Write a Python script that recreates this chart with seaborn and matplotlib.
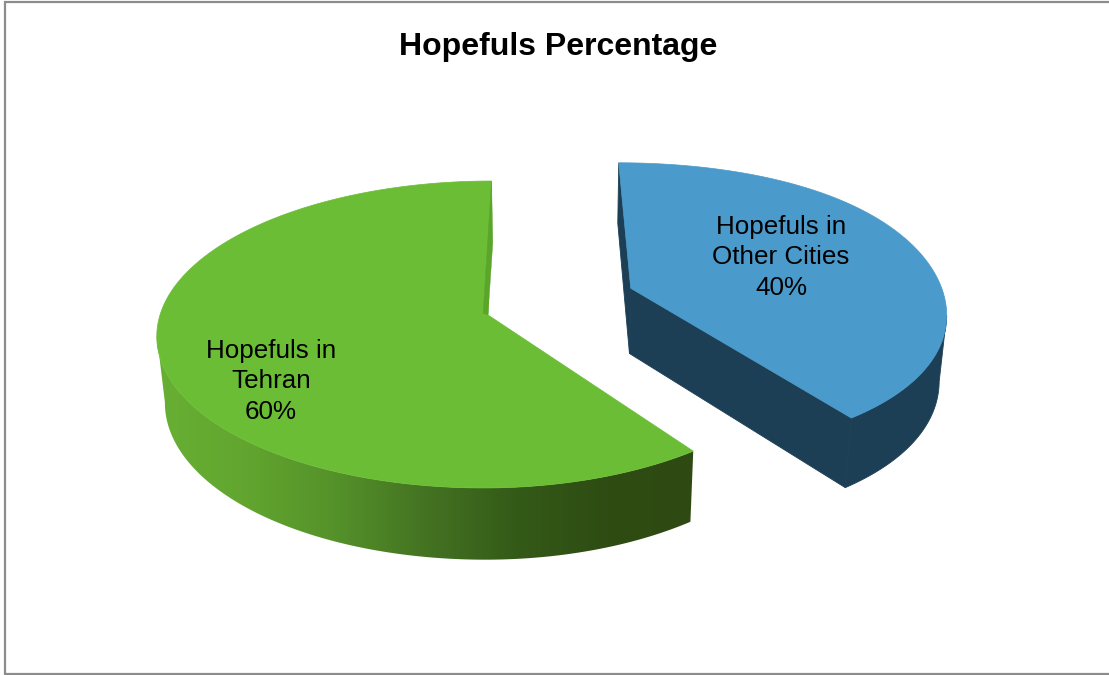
import numpy as np
import matplotlib
matplotlib.use("Agg")
import matplotlib.pyplot as plt
from matplotlib.patches import Polygon
import seaborn as sns

# Chart content
title = "Hopefuls Percentage"
categories = ["Hopefuls in\nOther Cities", "Hopefuls in\nTehran"]
shares = [40, 60]

# Styling
top_colors = ["#4A9ACB", "#6ABD35"]
blue_side = "#1D3F55"
green_wall = "#5AA52A"
green_ramp = ["#68B034", "#62A62F", "#55922A", "#447322", "#345A18", "#2E4C13", "#2E4A12"]

sns.set_theme(style="white")
plt.rcParams["font.family"] = ["Liberation Sans", "DejaVu Sans"]

# Camera of the tilted, extruded pie (screen pixels)
CX, CY = 488.0, 315.0
RX, RY = 328.0, 151.0
SHEAR = 4.0
KY, KZ = 0.127, 0.02
DEPTH, DRIFT = 67.5, 1.5
EXPLODE = (0.443, 0.181)


def project(x, y, z=0.0):
    x, y, z = np.asarray(x, float), np.asarray(y, float), np.asarray(z, float)
    w = 1 + KY * y + KZ * z
    return CX + (RX * x + SHEAR * y + DRIFT * z) / w, CY + (-RY * y + DEPTH * z) / w


def arc(start, end, n=240):
    a = np.radians(np.linspace(start, end, n))
    return np.cos(a), np.sin(a)


fig = plt.figure(figsize=(11.09, 6.75), dpi=100)
ax = fig.add_axes([0, 0, 1, 1])
ax.axis("off")

# Chart frame
ax.plot([1109, 5, 5, 1109], [2, 2, 674, 674], color="#8C8C8C", lw=1.6, solid_joinstyle="miter")

# Slice angles, clockwise from twelve o'clock
sweep = [s / sum(shares) * 360 for s in shares]
blue_start, blue_end = 90.0, 90.0 - sweep[0]
green_start, green_end = 90.0, 90.0 + sweep[1]

# Green slice outline: the front-right stretch sits slightly inside the circle
green_x, green_y = arc(green_start, green_end)
green_x = np.where(green_x > 0, green_x * 0.972, green_x)

# Green slice: rim from its leftmost point onward, shaded by a clipped gradient
rim_top = project(green_x, green_y)
rim_bot = project(green_x, green_y, np.ones_like(green_x))
first = np.argmin(rim_top[0])
rim_poly = Polygon(
    np.c_[
        np.r_[rim_top[0][first:], rim_bot[0][first:][::-1]],
        np.r_[rim_top[1][first:], rim_bot[1][first:][::-1]],
    ],
    closed=True, transform=ax.transData, facecolor="none", edgecolor="none",
)
ax.add_patch(rim_poly)
ramp = np.array(sns.blend_palette(green_ramp, n_colors=256))[None, :, :3]
image = ax.imshow(ramp, extent=(150, 700, 600, 170), aspect="auto", zorder=3, interpolation="bilinear")
image.set_clip_path(rim_poly)

# Green slice: top face
tx, ty = project(np.r_[0, green_x], np.r_[0, green_y])
ax.fill(tx, ty, color=top_colors[1], lw=0.5, zorder=4)

# Green slice: sliver of the radial wall seen beside the twelve o'clock edge
wall_x, wall_y = project([0, 0, 0, -0.015], [1, 1, 0, 0.012], [0, 1, 0, 0])
ax.fill(wall_x, wall_y, color=green_wall, lw=0.3, zorder=5)

# Other Cities slice outline, pulled out of the pie
bx, by = arc(blue_start, blue_end)
bx = bx * (1 - 0.03 * np.clip(bx, 0, 1) ** 3)
by = by * (1 - 0.025 * np.clip(by, 0, 1) ** 3)
ox = np.r_[0.0, bx] + EXPLODE[0]
oy = np.r_[0.0, by] + EXPLODE[1]

# Other Cities slice: dark body swept from its outline, then top face
rim_a = project(ox, oy)
rim_b = project(ox, oy, np.ones_like(ox))
front = np.argmax(rim_a[0])
arc_ids = np.arange(front, len(ox))
ax.fill(
    np.r_[rim_a[0][arc_ids], rim_b[0][arc_ids][::-1]],
    np.r_[rim_a[1][arc_ids], rim_b[1][arc_ids][::-1]],
    facecolor=blue_side, edgecolor=blue_side, lw=0.6, zorder=6,
)
for i, j in [(0, 1), (len(ox) - 1, 0)]:
    ax.fill(
        [rim_a[0][i], rim_a[0][j], rim_b[0][j], rim_b[0][i]],
        [rim_a[1][i], rim_a[1][j], rim_b[1][j], rim_b[1][i]],
        facecolor=blue_side, edgecolor=blue_side, lw=0.6, zorder=6,
    )
ax.fill(rim_a[0], rim_a[1], color=top_colors[0], lw=0.5, zorder=7)

# Texts
ax.text(558, 46.5, title, ha="center", va="center", fontsize=23, fontweight="bold", color="black")
label_style = dict(ha="center", va="center", fontsize=18.7, color="black", linespacing=1.36, zorder=8)
ax.text(781, 257.5, f"{categories[0]}\n{shares[0]}%", **label_style)
ax.text(271, 381.5, f"{categories[1]}\n{shares[1]}%", **label_style)

ax.set_xlim(0, 1109)
ax.set_ylim(675, 0)
fig.savefig("out.png", dpi=100, facecolor="white")
